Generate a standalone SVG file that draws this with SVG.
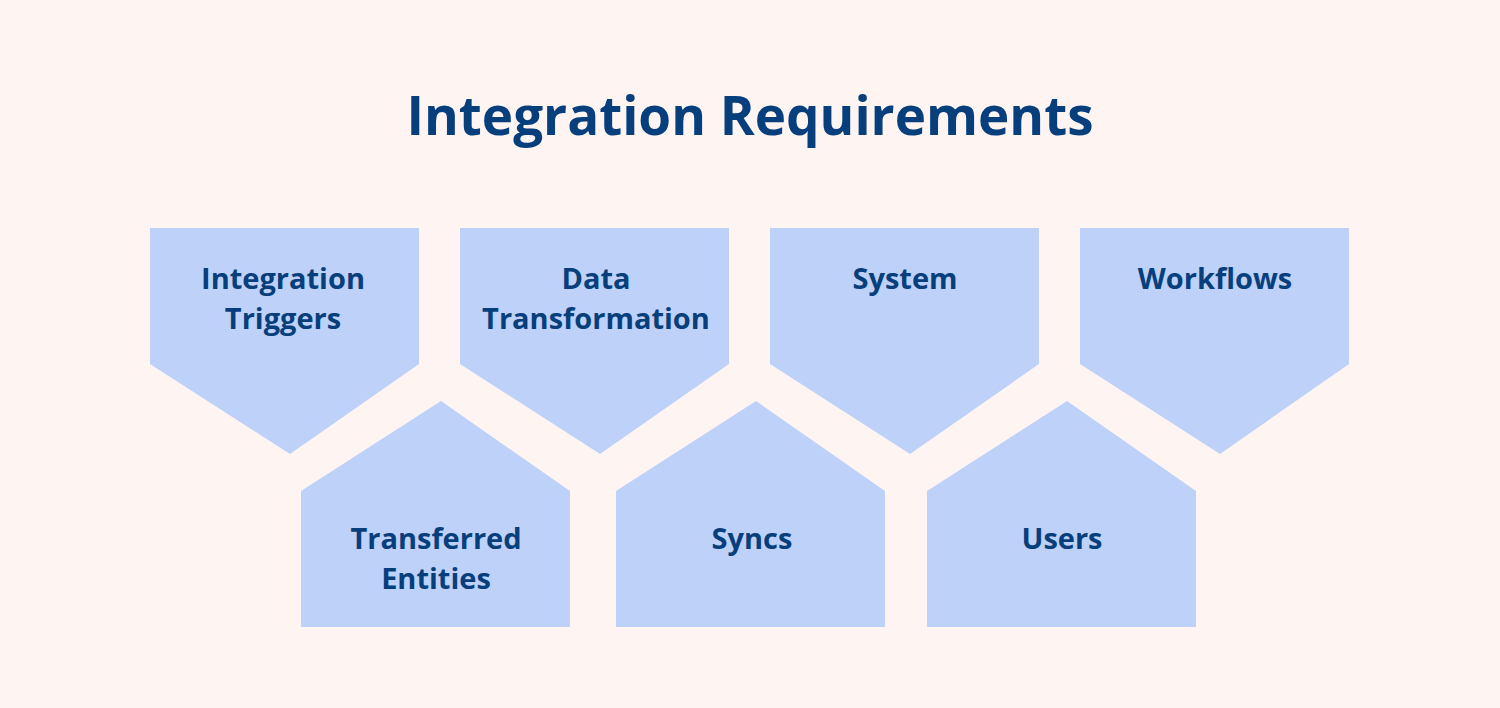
<svg xmlns="http://www.w3.org/2000/svg" width="1500" height="708" viewBox="0 0 1500 708">
<style>
.s{fill:#bed1f8}
.t{font-family:"Open Sans","Liberation Sans",sans-serif;font-weight:700;fill:#073f7c;text-anchor:middle;font-size:29px}
.h{font-size:53px}
</style>
<defs>
<path id="dn" d="M0,0 H269 V136 L140,226 L0,136 Z"/>
<path id="up" d="M0,90 L140,0 L269,90 V226 H0 Z"/>
</defs>
<rect width="1500" height="708" fill="#fef5f3"/>
<text class="t h" x="750" y="135">Integration Requirements</text>
<g id="n1"><use href="#dn" class="s" x="150" y="228"/><text class="t" x="283" y="289">Integration</text><text class="t" x="283" y="329">Triggers</text></g>
<g id="n2"><use href="#dn" class="s" x="460" y="228"/><text class="t" x="596" y="289">Data</text><text class="t" x="596" y="329">Transformation</text></g>
<g id="n3"><use href="#dn" class="s" x="770" y="228"/><text class="t" x="905" y="289">System</text></g>
<g id="n4"><use href="#dn" class="s" x="1080" y="228"/><text class="t" x="1215" y="289">Workflows</text></g>
<g id="n5"><use href="#up" class="s" x="301" y="401"/><text class="t" x="436" y="549">Transferred</text><text class="t" x="436" y="589">Entities</text></g>
<g id="n6"><use href="#up" class="s" x="616" y="401"/><text class="t" x="752" y="549">Syncs</text></g>
<g id="n7"><use href="#up" class="s" x="927" y="401"/><text class="t" x="1062" y="549">Users</text></g>
<g id="connectors"/>
</svg>
